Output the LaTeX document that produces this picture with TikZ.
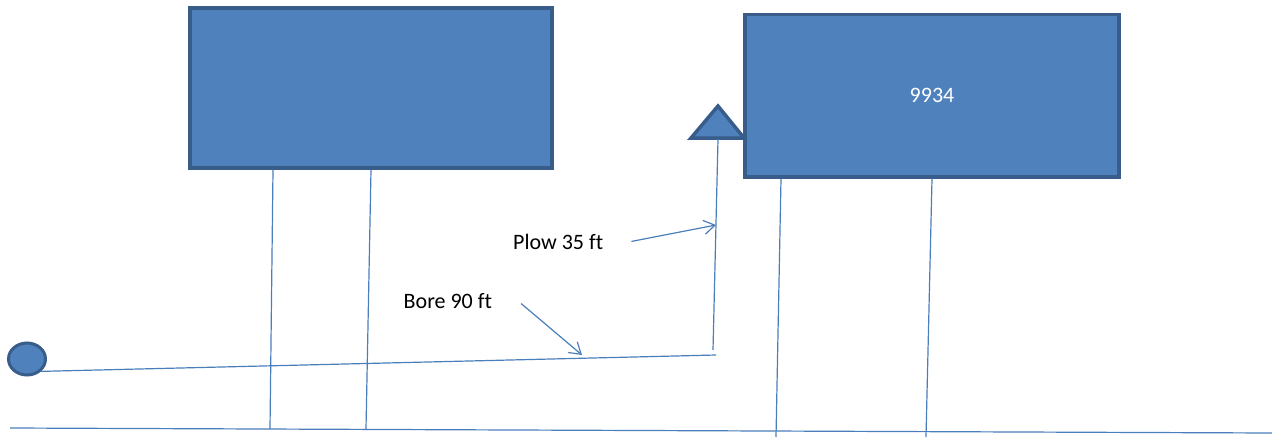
\documentclass[tikz,border=0pt]{standalone}
\usepackage{fontspec}
\setmainfont[Ligatures=NoCommon]{Carlito}
\usepackage{tikz}
\usetikzlibrary{shapes.geometric, positioning, arrows.meta}
\definecolor{HouseBlue}{RGB}{79, 129, 189}
\definecolor{HouseEdge}{RGB}{56, 93, 138}
\definecolor{WireBlue}{RGB}{74, 126, 187}

\begin{document}
\begin{tikzpicture}[x=1pt, y=-1pt,
    house/.style={draw=HouseEdge, fill=HouseBlue, line width=3.5pt, inner sep=0pt},
    wire/.style={draw=WireBlue, line width=1.2pt},
    lbl/.style={font=\fontsize{22}{26}\selectfont, inner sep=0pt, anchor=base west}]
    \useasboundingbox (0,0) rectangle (1272,439);

    % Calle
    \coordinate (street0) at (10,428);
    \coordinate (street1) at (1272,433);
    \draw[wire] (street0) -- (street1);

    % Casas
    \node[house, minimum width=362pt, minimum height=160pt] (house1) at (371,88) {};
    \node[house, minimum width=374pt, minimum height=162.5pt, text=white,
          font=\fontsize{22}{26}\selectfont] (house2) at (932,95.75) {9934};

    % Bajantes a la calle
    \coordinate (drop1) at (270,429);
    \coordinate (drop2) at (366,429);
    \coordinate (drop3) at (776,437);
    \coordinate (drop4) at (926,437);
    \draw[wire] ([xshift=-98pt]house1.south) -- (drop1);
    \draw[wire] (house1.south) -- (drop2);
    \draw[wire] ([xshift=-151pt]house2.south) -- (drop3);
    \draw[wire] (house2.south) -- (drop4);

    % Pedestal
    \coordinate (pedL) at (691,138);
    \coordinate (pedT) at (718,106);
    \coordinate (pedR) at (744,138);
    \coordinate (pedB) at (718,139);
    \draw[house] (pedL) -- (pedT) -- (pedR) -- cycle;

    % Perforacion y zanja
    \coordinate (boreEnd) at (716,355);
    \coordinate (plowBot) at (713,350);
    \draw[wire] (plowBot) -- (pedB);
    \node[house, ellipse, line width=3pt, minimum width=37pt, minimum height=32pt] (hh) at (27,359) {};
    \draw[wire] (hh.south east) -- (boreEnd);

    % Etiquetas
    \node[lbl] (plow) at (513,249) {Plow 35 ft};
    \coordinate (plowTip) at (716,225);
    \draw[wire, -{Straight Barb[length=11pt, width=14pt]}] ([xshift=28pt]plow.east) -- (plowTip);

    \node[lbl] (bore) at (403.5,308) {Bore 90 ft};
    \coordinate (boreTip) at (582,355);
    \draw[wire, -{Straight Barb[length=11pt, width=14pt]}] ([shift={(29,3)}]bore.east) -- (boreTip);
\end{tikzpicture}
\end{document}
